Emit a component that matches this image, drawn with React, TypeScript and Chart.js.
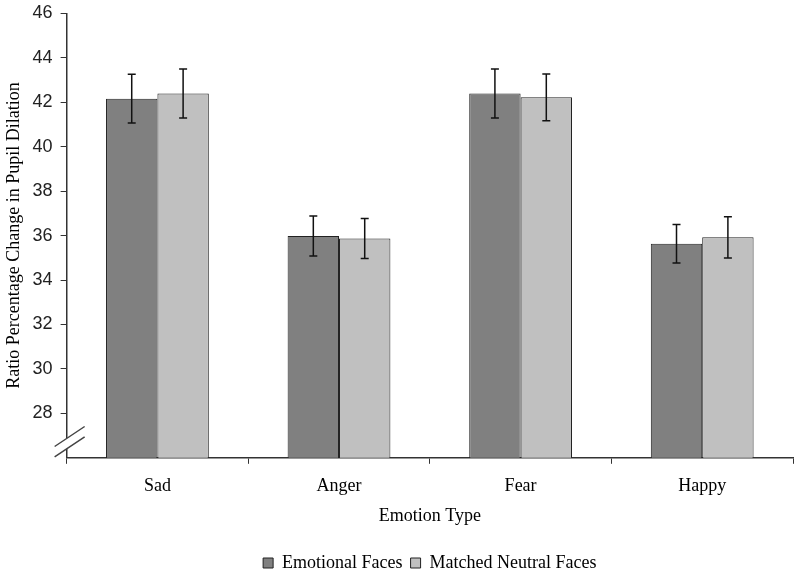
import { useEffect, useRef } from 'react';
import { Chart, registerables } from 'chart.js';

Chart.register(...registerables);

const categories = ['Sad', 'Anger', 'Fear', 'Happy'];
const seriesNames = ['Emotional Faces', 'Matched Neutral Faces'];
const emotionalValues = [42.16, 35.98, 42.39, 35.63];
const emotionalErrors = [1.1, 0.9, 1.1, 0.87];
const neutralValues = [42.39, 35.87, 42.22, 35.92];
const neutralErrors = [1.1, 0.9, 1.05, 0.93];
const yMin = 26;
const yMax = 46;
const yStep = 2;
const yFirstLabel = 28;

const errorsByDataset = [emotionalErrors, neutralErrors];

const errorBarPlugin = {
  id: 'errorBars',
  afterDatasetsDraw(chart: any) {
    const ctx = chart.ctx;
    const yScale = chart.scales.y;
    ctx.save();
    ctx.strokeStyle = '#111';
    ctx.lineWidth = 1.5;
    chart.data.datasets.forEach((ds: any, di: number) => {
      const meta = chart.getDatasetMeta(di);
      meta.data.forEach((bar: any, i: number) => {
        const v = ds.data[i];
        const e = errorsByDataset[di][i];
        const x = bar.x;
        const yTop = yScale.getPixelForValue(v + e);
        const yBot = yScale.getPixelForValue(v - e);
        const cap = 4;
        ctx.beginPath();
        ctx.moveTo(x, yTop);
        ctx.lineTo(x, yBot);
        ctx.moveTo(x - cap, yTop);
        ctx.lineTo(x + cap, yTop);
        ctx.moveTo(x - cap, yBot);
        ctx.lineTo(x + cap, yBot);
        ctx.stroke();
      });
    });
    ctx.restore();
  },
};

const axisBreakPlugin = {
  id: 'axisBreak',
  afterDraw(chart: any) {
    const ctx = chart.ctx;
    const x = chart.chartArea.left;
    const b = chart.chartArea.bottom;
    const y1 = b - 19.3;
    const y2 = b - 9;
    ctx.save();
    ctx.fillStyle = '#fff';
    ctx.beginPath();
    ctx.moveTo(x - 3, y1 + 2);
    ctx.lineTo(x + 3, y1 - 2);
    ctx.lineTo(x + 3, y2 - 2);
    ctx.lineTo(x - 3, y2 + 2);
    ctx.closePath();
    ctx.fill();
    ctx.strokeStyle = '#444';
    ctx.lineWidth = 1.5;
    ctx.beginPath();
    ctx.moveTo(x - 12, y1 + 8);
    ctx.lineTo(x + 18, y1 - 12);
    ctx.moveTo(x - 12, y2 + 8);
    ctx.lineTo(x + 18, y2 - 12);
    ctx.stroke();
    ctx.restore();
  },
};

export default function App() {
  const ref = useRef<HTMLCanvasElement>(null);
  useEffect(() => {
    document.body.style.margin = '0';
    const serif = 'Liberation Serif';
    const sans = 'Liberation Sans';
    const chart = new Chart(ref.current as HTMLCanvasElement, {
      type: 'bar',
      data: {
        labels: categories,
        datasets: [
          {
            label: seriesNames[0],
            data: emotionalValues,
            backgroundColor: '#808080',
            borderColor: '#222',
            borderWidth: 1,
            categoryPercentage: 0.566,
            barPercentage: 1,
          },
          {
            label: seriesNames[1],
            data: neutralValues,
            backgroundColor: '#c0c0c0',
            borderColor: '#222',
            borderWidth: 1,
            categoryPercentage: 0.566,
            barPercentage: 1,
          },
        ],
      },
      options: {
        responsive: false,
        animation: false,
        layout: { padding: { top: 4, right: 7, left: 3, bottom: -9 } },
        plugins: {
          tooltip: { enabled: false },
          legend: {
            position: 'bottom',
            fullSize: false,
            labels: {
              boxWidth: 10,
              boxHeight: 10,
              padding: 8,
              color: '#000',
              font: { family: serif, size: 18 },
            },
          },
        },
        scales: {
          x: {
            grid: { display: true, drawOnChartArea: false, tickLength: 6, color: '#333', offset: true },
            border: { color: '#333', width: 1.5 },
            ticks: { color: '#000', font: { family: serif, size: 18 }, padding: 12 },
            title: {
              display: true,
              text: 'Emotion Type',
              color: '#000',
              font: { family: serif, size: 18 },
              padding: { top: -4, bottom: 19 },
            },
          },
          y: {
            min: yMin,
            max: yMax,
            afterBuildTicks: (axis: any) => {
              axis.ticks = axis.ticks.filter((t: any) => t.value >= yFirstLabel);
            },
            afterFit: (axis: any) => {
              axis.paddingTop = Math.max(axis.paddingTop - 5.5, 0);
            },
            ticks: { stepSize: yStep, color: '#222', font: { family: sans, size: 18 }, padding: 8 },
            grid: { display: true, drawOnChartArea: false, tickLength: 6, color: '#333' },
            border: { color: '#333', width: 1.5 },
            title: {
              display: true,
              text: 'Ratio Percentage Change in Pupil Dilation',
              color: '#000',
              font: { family: serif, size: 18 },
              padding: { top: 0, bottom: 0 },
            },
          },
        },
      },
      plugins: [errorBarPlugin, axisBreakPlugin],
    });
    return () => chart.destroy();
  }, []);
  return (
    <div style={{ width: 800, height: 573 }}>
      <canvas ref={ref} width={800} height={573} />
    </div>
  );
}
